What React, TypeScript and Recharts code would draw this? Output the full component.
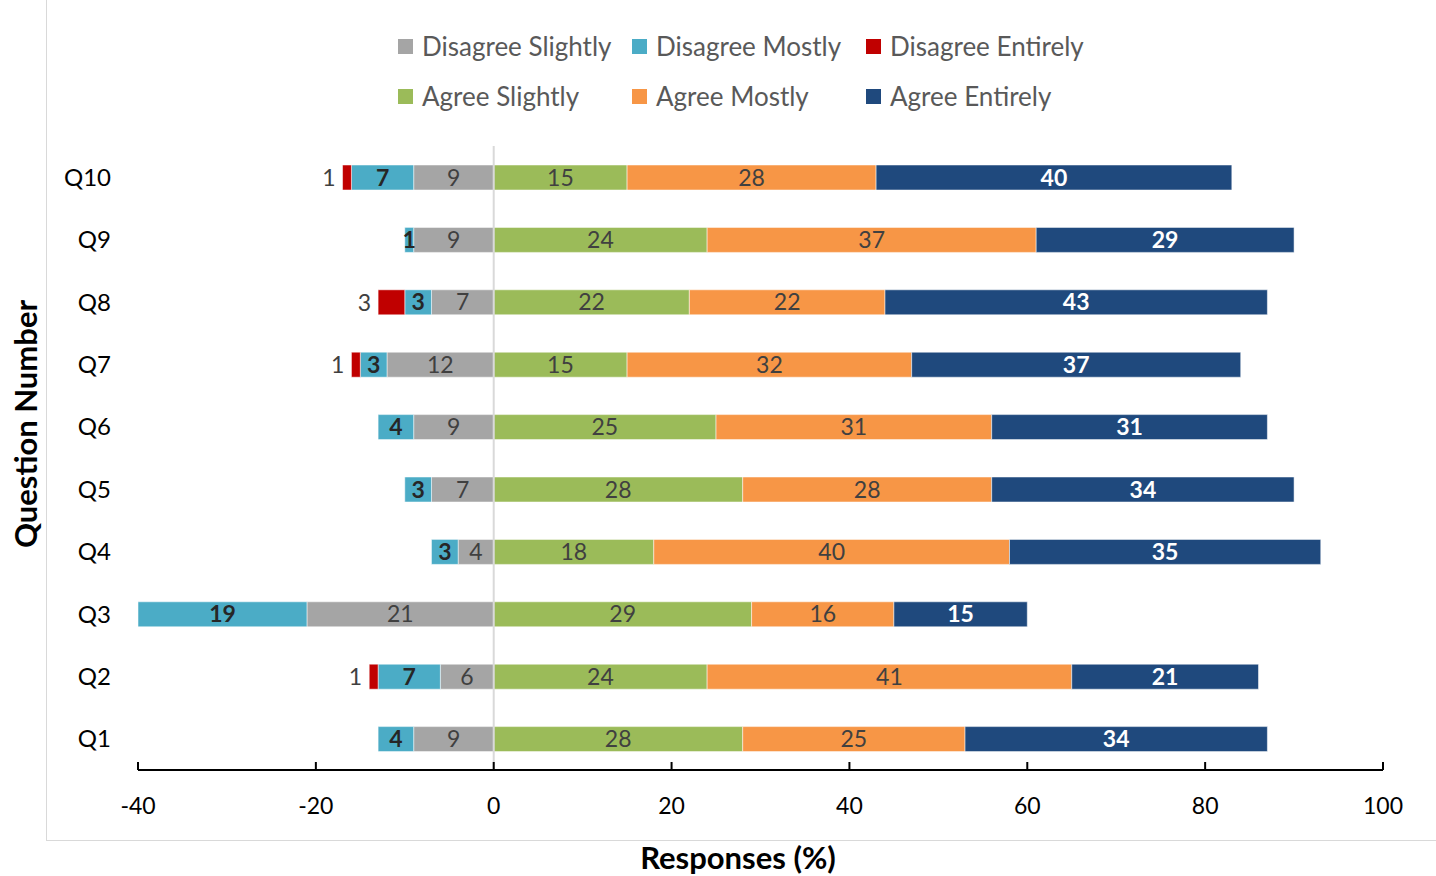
import { BarChart, Bar, XAxis, YAxis, ReferenceLine, LabelList } from "recharts";

const categories = ["Q1", "Q2", "Q3", "Q4", "Q5", "Q6", "Q7", "Q8", "Q9", "Q10"];
const disagreeSlightly = [9, 6, 21, 4, 7, 9, 12, 7, 9, 9];
const disagreeMostly = [4, 7, 19, 3, 3, 4, 3, 3, 1, 7];
const disagreeEntirely = [0, 1, 0, 0, 0, 0, 1, 3, 0, 1];
const agreeSlightly = [28, 24, 29, 18, 28, 25, 15, 22, 24, 15];
const agreeMostly = [25, 41, 16, 40, 28, 31, 32, 22, 37, 28];
const agreeEntirely = [34, 21, 15, 35, 34, 31, 37, 43, 29, 40];
const xTicks = [-40, -20, 0, 20, 40, 60, 80, 100];

// disagree answers go left of zero
const data = categories.map((q, i) => ({
  q,
  ds: -disagreeSlightly[i],
  dm: -disagreeMostly[i],
  de: -disagreeEntirely[i],
  as: agreeSlightly[i],
  am: agreeMostly[i],
  ae: agreeEntirely[i],
}));

const FONT = "Lato, 'Open Sans', sans-serif";

const legendRows = [
  [
    { name: "Disagree Slightly", color: "#A5A5A5" },
    { name: "Disagree Mostly", color: "#4BACC6" },
    { name: "Disagree Entirely", color: "#C00000" },
  ],
  [
    { name: "Agree Slightly", color: "#9BBB59" },
    { name: "Agree Mostly", color: "#F79646" },
    { name: "Agree Entirely", color: "#1F497D" },
  ],
];
const legendCols = [398, 632, 866];

const fmt = (v: any) => (v ? String(Math.abs(Number(v))) : "");

const OutsideLabel = (props: any) => {
  const { x, y, width, height, value } = props;
  if (!value) return null;
  const left = Math.min(Number(x), Number(x) + Number(width));
  return (
    <text
      x={left - 7}
      y={Number(y) + Number(height) / 2}
      dy="0.36em"
      textAnchor="end"
      fill="#404040"
      fontSize={23}
      fontFamily={FONT}
    >
      {Math.abs(value)}
    </text>
  );
};

const labelStyle = { fontSize: 23, fontFamily: FONT };

export default function App() {
  return (
    <div style={{ position: "absolute", left: 0, top: 0, width: 1436, height: 876, overflow: "hidden", background: "#fff", fontFamily: FONT }}>
      <div style={{ position: "absolute", left: 46, top: -1, width: 1436, height: 840, border: "1px solid #d9d9d9" }} />

      {legendRows.map((row, r) =>
        row.map((item, c) => (
          <div
            key={item.name}
            style={{
              position: "absolute",
              left: legendCols[c],
              top: 47 + r * 50 - 17,
              height: 32,
              display: "flex",
              alignItems: "center",
              fontSize: 26,
              color: "#595959",
              whiteSpace: "nowrap",
            }}
          >
            <span style={{ width: 15, height: 15, background: item.color, marginRight: 9, display: "inline-block" }} />
            {item.name}
          </div>
        ))
      )}

      <div
        style={{
          position: "absolute",
          left: 25,
          top: 424,
          transform: "translate(-50%, -50%) rotate(-90deg)",
          fontSize: 31,
          fontWeight: 700,
          color: "#000",
          whiteSpace: "nowrap",
        }}
      >
        Question Number
      </div>
      <div
        style={{
          position: "absolute",
          left: 738,
          top: 857,
          transform: "translate(-50%, -50%)",
          fontSize: 31,
          fontWeight: 700,
          color: "#000",
          whiteSpace: "nowrap",
        }}
      >
        Responses (%)
      </div>

      <div style={{ position: "absolute", left: 0, top: 0 }}>
        <BarChart
          width={1436}
          height={876}
          data={data}
          layout="vertical"
          stackOffset="sign"
          barSize={25}
          margin={{ top: 146, right: 53, left: 60, bottom: 0 }}
        >
          <XAxis
            type="number"
            domain={[-40, 100]}
            ticks={xTicks}
            interval={0}
            height={106}
            axisLine={{ stroke: "#000", strokeWidth: 2 }}
            tickLine={{ stroke: "#000", strokeWidth: 2 }}
            tickSize={-8}
            tickMargin={36}
            tick={{ fill: "#000", fontSize: 23, fontFamily: FONT }}
          />
          <YAxis
            type="category"
            dataKey="q"
            reversed
            width={78}
            axisLine={false}
            tickLine={false}
            tickSize={0}
            tickMargin={27}
            tick={{ fill: "#000", fontSize: 24, fontFamily: FONT }}
          />
          <Bar dataKey="ds" stackId="s" fill="#A5A5A5" stroke="#ffffff" strokeOpacity={0.5} isAnimationActive={false}>
            <LabelList dataKey="ds" position="center" formatter={fmt} fill="#404040" style={labelStyle} />
          </Bar>
          <Bar dataKey="dm" stackId="s" fill="#4BACC6" stroke="#ffffff" strokeOpacity={0.5} isAnimationActive={false}>
            <LabelList dataKey="dm" position="center" formatter={fmt} fill="#262626" fontWeight={700} style={labelStyle} />
          </Bar>
          <Bar dataKey="de" stackId="s" fill="#C00000" stroke="#ffffff" strokeOpacity={0.5} isAnimationActive={false}>
            <LabelList dataKey="de" content={OutsideLabel} />
          </Bar>
          <Bar dataKey="as" stackId="s" fill="#9BBB59" stroke="#ffffff" strokeOpacity={0.5} isAnimationActive={false}>
            <LabelList dataKey="as" position="center" formatter={fmt} fill="#404040" style={labelStyle} />
          </Bar>
          <Bar dataKey="am" stackId="s" fill="#F79646" stroke="#ffffff" strokeOpacity={0.5} isAnimationActive={false}>
            <LabelList dataKey="am" position="center" formatter={fmt} fill="#404040" style={labelStyle} />
          </Bar>
          <Bar dataKey="ae" stackId="s" fill="#1F497D" stroke="#ffffff" strokeOpacity={0.5} isAnimationActive={false}>
            <LabelList dataKey="ae" position="center" formatter={fmt} fill="#ffffff" fontWeight={700} style={labelStyle} />
          </Bar>
          <ReferenceLine x={0} stroke="#d9d9d9" strokeWidth={2} />
        </BarChart>
      </div>
    </div>
  );
}
